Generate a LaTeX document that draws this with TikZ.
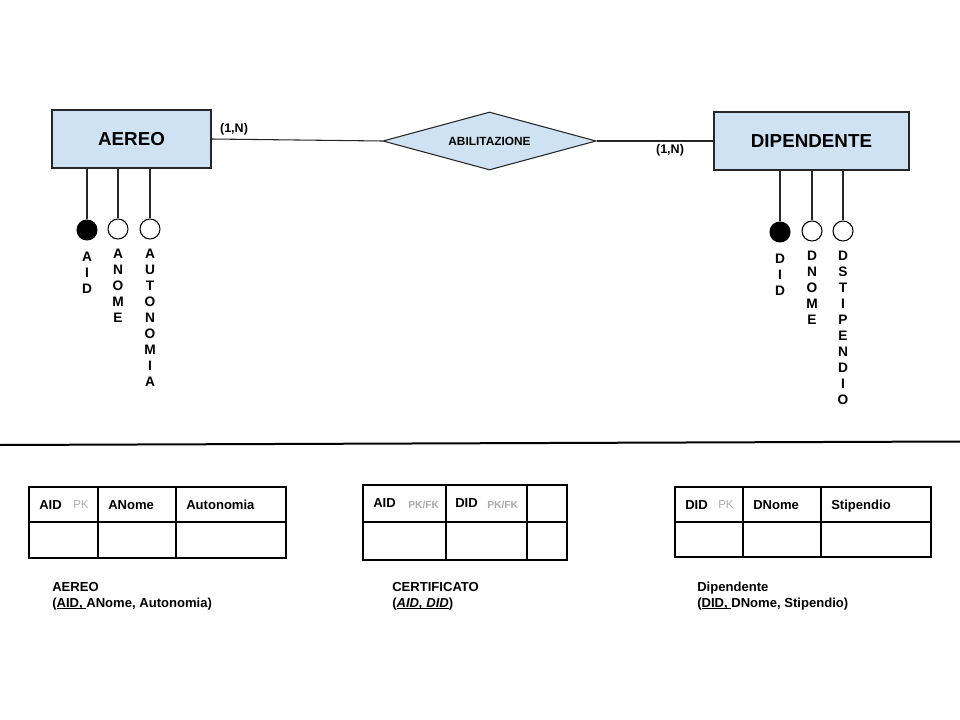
\documentclass[tikz,border=0pt]{standalone}
\usepackage{fontspec}
\setmainfont{Liberation Sans}
\usetikzlibrary{shapes.geometric}
\definecolor{ebox}{HTML}{CFE2F3}
\definecolor{pkgray}{HTML}{ABABAB}
\newcommand{\myul}[1]{{\setbox0\hbox{#1}\rlap{\rule[-1.6pt]{\wd0}{0.65pt}}\box0}}
\begin{document}
\begin{tikzpicture}[x=0.75pt,y=-0.75pt,
  entity/.style={draw=black!85,fill=ebox,line width=0.8pt,minimum height=43.5pt,inner sep=0pt,font=\fontsize{14.1}{16}\selectfont\bfseries},
  rel/.style={draw=black!85,fill=ebox,line width=0.8pt,diamond,aspect=3.67,minimum width=160pt,minimum height=43.5pt,inner sep=0pt,font=\fontsize{8.9}{10}\selectfont\bfseries},
  conn/.style={line width=0.8pt,draw=black!85},
  attr/.style={circle,draw=black,line width=0.8pt,minimum size=15pt,inner sep=0pt},
  keyattr/.style={attr,fill=black},
  vlabel/.style={align=center,anchor=north,inner sep=0pt,font=\fontsize{10.3}{12}\selectfont\bfseries},
  card/.style={font=\fontsize{9.4}{11}\selectfont\bfseries,inner sep=0pt},
  cell/.style={line width=0.8pt},
  th/.style={anchor=base west,inner sep=0pt,font=\fontsize{9.8}{12}\selectfont\bfseries},
  pk/.style={anchor=base west,inner sep=0pt,text=pkgray,font=\fontsize{8.6}{9}\selectfont},
  pkfk/.style={anchor=base west,inner sep=0pt,text=pkgray,font=\fontsize{7.7}{9}\selectfont\bfseries},
  captext/.style={anchor=base west,inner sep=0pt,font=\fontsize{9.8}{12}\selectfont\bfseries}
]
\useasboundingbox (0,0) rectangle (960,720);

% entities
\node[entity,minimum width=119.25pt] (aereo) at (131.5,139) {AEREO};
\node[entity,minimum width=146.25pt] (dip) at (811.5,141) {DIPENDENTE};
\node[rel] (abil) at (489.5,141) {ABILITAZIONE};

\draw[conn] (aereo.east) -- (abil.west);
\draw[conn] (abil.east) -- (dip.west);
\node[card] (c1) at (234,129) {(1,N)};
\node[card] (c2) at (670,150) {(1,N)};

% AEREO attributes
\node[keyattr] (aid) at (87,230) {};
\node[attr] (anome) at (118,229) {};
\node[attr] (aauto) at (150,229) {};
\draw[conn] (aid.north |- aereo.south) -- (aid.north);
\draw[conn] (anome.north |- aereo.south) -- (anome.north);
\draw[conn] (aauto.north |- aereo.south) -- (aauto.north);
\node[vlabel] (laid) at (87,251.5) {A\\I\\D};
\node[vlabel] (lanome) at (118,248.5) {A\\N\\O\\M\\E};
\node[vlabel] (lauto) at (150,248.5) {A\\U\\T\\O\\N\\O\\M\\I\\A};

% DIPENDENTE attributes
\node[keyattr] (did) at (780,232) {};
\node[attr] (dnome) at (812,231) {};
\node[attr] (dstip) at (843,231) {};
\draw[conn] (did.north |- dip.south) -- (did.north);
\draw[conn] (dnome.north |- dip.south) -- (dnome.north);
\draw[conn] (dstip.north |- dip.south) -- (dstip.north);
\node[vlabel] (ldid) at (780,253.5) {D\\I\\D};
\node[vlabel] (ldnome) at (812,250.5) {D\\N\\O\\M\\E};
\node[vlabel] (ldstip) at (843,250.5) {D\\S\\T\\I\\P\\E\\N\\D\\I\\O};

% separator
\coordinate (sepL) at (0,445);
\coordinate (sepR) at (960,441.5);
\draw[line width=1.5pt] (sepL) -- (sepR);

% table 1
\draw[cell] (29,487) rectangle (286,558);
\draw[cell] (29,522) -- (286,522);
\draw[cell] (98,487) -- (98,558);
\draw[cell] (176,487) -- (176,558);
\node[th] (t1a) at (39,509) {AID};
\node[pk] (t1p) at (73,508) {PK};
\node[th] (t1b) at (108,509) {ANome};
\node[th] (t1c) at (186,509) {Autonomia};

% table 2
\draw[cell] (363,485) rectangle (567,560);
\draw[cell] (363,522) -- (567,522);
\draw[cell] (446,485) -- (446,560);
\draw[cell] (527,485) -- (527,560);
\node[th] (t2a) at (373,507) {AID};
\node[pkfk] (t2p) at (408,508) {PK/FK};
\node[th] (t2b) at (455,507) {DID};
\node[pkfk] (t2q) at (487,508) {PK/FK};

% table 3
\draw[cell] (675,487) rectangle (931,557);
\draw[cell] (675,522) -- (931,522);
\draw[cell] (743,487) -- (743,557);
\draw[cell] (821,487) -- (821,557);
\node[th] (t3a) at (685,509) {DID};
\node[pk] (t3p) at (718,508) {PK};
\node[th] (t3b) at (753,509) {DNome};
\node[th] (t3c) at (831,509) {Stipendio};

% captions
\node[captext] (k1) at (52,591) {AEREO};
\node[captext] (k1b) at (52,607) {(\myul{AID,\ }ANome, Autonomia)};
\node[captext] (k2) at (392,591) {CERTIFICATO};
\node[captext] (k2b) at (392,607) {(\myul{\itshape AID, DID})};
\node[captext] (k3) at (697,591) {Dipendente};
\node[captext] (k3b) at (697,607) {(\myul{DID,\ }DNome, Stipendio)};
\end{tikzpicture}
\end{document}
